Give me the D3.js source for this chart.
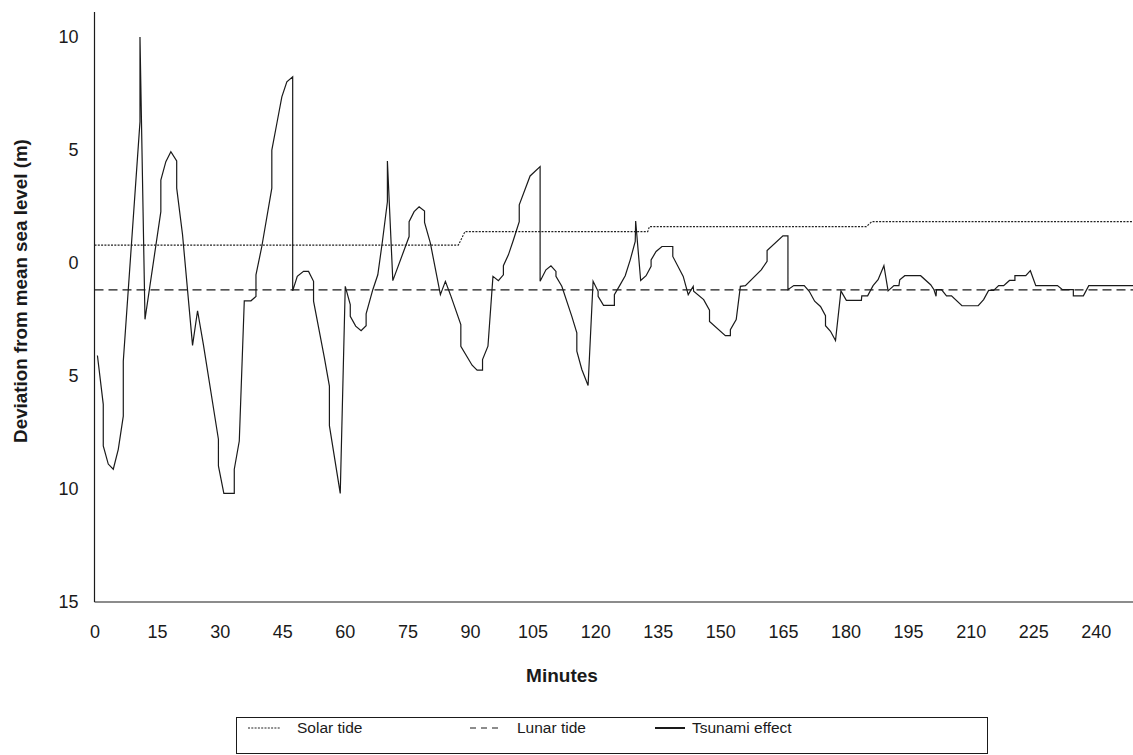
<!DOCTYPE html>
<html>
<head>
<meta charset="utf-8">
<script src="https://cdn.jsdelivr.net/npm/d3@7"></script>
<style>
  html, body { margin: 0; padding: 0; background: #fff; }
  svg { display: block; font-family: "Liberation Sans", Arial, Helvetica, sans-serif; }
</style>
</head>
<body>
<svg id="chart" width="1133" height="755"></svg>
<script>
// ---- Data ----
const xTicks = [0, 15, 30, 45, 60, 75, 90, 105, 120, 135, 150, 165, 180, 195, 210, 225, 240];
const yTicks = [10, 5, 0, -5, -10, -15];

const solarMin = [0, 87.2, 88.8, 132.6, 133.0, 185.0, 186.3, 248.9];
const solarVal = [0.78, 0.78, 1.38, 1.38, 1.6, 1.6, 1.82, 1.82];

const lunarMin = [0, 248.9];
const lunarVal = [-1.2, -1.2];

const tsunamiMin = [0.7,2.1,2.1,3.3,4.5,5.7,6.9,6.9,10.9,10.9,12.1,15.9,15.9,17.1,18.3,19.7,19.7,21.1,23.5,24.7,26.1,29.7,29.7,31,33.5,33.5,34.7,35.9,37.5,38.7,38.7,40.1,42.5,42.5,43.7,44.9,46.1,47.5,47.5,48.6,50.1,51.3,52.5,52.5,55.1,56.3,56.3,58.9,60.1,61.3,61.3,62.6,63.9,65.1,65.1,66.7,67.9,69,70.2,70.2,71.5,75.4,75.4,76.6,77.8,79.1,79.1,80.5,82.9,84.1,85.3,87.8,87.8,90.5,91.7,93,93,94.3,95.5,96.8,98,98,99.2,100.4,101.8,101.8,104.4,106.8,106.8,108.2,109.4,110.6,110.6,112,114.4,115.6,115.6,116.8,118.3,119.5,120.7,120.7,122,124.6,124.6,125.9,127.2,128.4,129.6,129.7,130.9,132.2,133.4,133.4,134.6,136,138.6,138.6,141.1,142.3,143.5,143.6,146,147.4,147.4,151.2,152.4,152.4,153.8,154.8,156,159.8,161.2,161.2,165,166.2,166.2,167.6,170.1,171.3,172.6,174,175.2,175.2,176.4,177.6,178.9,180.2,183.8,183.9,185.3,186.6,187.8,189.2,190.2,191.6,192.8,193,194.2,198,200.4,201.2,201.7,201.8,203,204.2,205.4,207.9,211.8,213.1,214.3,215.5,216.7,217.9,219.3,220.6,220.6,223.2,224.3,225.6,230.8,232,234.6,234.6,237,238.3,248.9];
const tsunamiVal = [-4.1,-6.26,-8.1,-8.9,-9.13,-8.25,-6.78,-4.35,6.23,9.98,-2.5,2.26,3.66,4.47,4.91,4.5,3.3,1.24,-3.65,-2.12,-3.62,-7.8,-8.98,-10.2,-10.2,-9.13,-7.88,-1.68,-1.68,-1.49,-0.53,0.72,3.3,4.98,6.16,7.34,8.0,8.22,-1.24,-0.6,-0.38,-0.38,-0.82,-1.7,-4.2,-5.45,-7.2,-10.2,-1.04,-1.85,-2.37,-2.8,-3.0,-2.78,-2.26,-1.19,-0.53,0.94,2.7,4.5,-0.79,1.16,1.82,2.26,2.48,2.29,1.79,0.87,-1.41,-0.82,-1.41,-2.73,-3.69,-4.53,-4.75,-4.75,-4.28,-3.69,-0.6,-0.79,-0.53,-0.13,0.35,1.01,1.82,2.56,3.84,4.25,-0.82,-0.31,-0.13,-0.38,-0.6,-1.04,-2.37,-3.1,-3.91,-4.72,-5.43,-0.82,-1.26,-1.48,-1.88,-1.88,-1.41,-1.0,-0.57,0.13,0.94,1.85,-0.78,-0.57,-0.16,0.13,0.5,0.72,0.72,0.28,-0.6,-1.41,-1.04,-1.26,-1.63,-2.1,-2.59,-3.22,-3.22,-2.96,-2.51,-1.04,-1.01,-0.31,0.06,0.54,1.19,1.19,-1.19,-1.01,-1.01,-1.26,-1.7,-1.93,-2.34,-2.78,-3.03,-3.44,-1.24,-1.66,-1.66,-1.46,-1.46,-1.01,-0.75,-0.13,-1.24,-1.01,-1.01,-0.75,-0.57,-0.57,-0.97,-1.19,-1.48,-1.19,-1.19,-1.46,-1.46,-1.9,-1.9,-1.63,-1.22,-1.22,-1.01,-1.01,-0.78,-0.78,-0.57,-0.57,-0.35,-1.01,-1.01,-1.19,-1.19,-1.46,-1.46,-1.01,-1.01];

const legendLabels = ["Solar tide", "Lunar tide", "Tsunami effect"];

// ---- Layout ----
const svg = d3.select("#chart");
const plotLeft = 94.5, plotRight = 1133, plotTop = 12, plotBottom = 602;

const x = d3.scaleLinear().domain([0, 248.9]).range([plotLeft, plotRight]);
const y = d3.scaleLinear().domain([-15, 11.09]).range([plotBottom, plotTop]);

const ink = "#1a1a1a";

// Axes
const xAxis = d3.axisBottom(x).tickValues(xTicks).tickSize(0).tickPadding(23).tickFormat(d3.format("d"));
const yAxis = d3.axisLeft(y).tickValues(yTicks).tickSize(0).tickPadding(16).tickFormat(d => String(Math.abs(d)));

const gx = svg.append("g").attr("transform", `translate(0,${plotBottom})`).call(xAxis);
const gy = svg.append("g").attr("transform", `translate(${plotLeft},0)`).call(yAxis);
[gx, gy].forEach(g => {
  g.select(".domain").attr("stroke", ink).attr("stroke-width", 1.2);
  g.selectAll("text").attr("font-size", 18).attr("fill", ink)
   .attr("font-family", "'Liberation Sans', Arial, sans-serif");
});
gx.select(".domain").attr("d", `M${plotLeft},0H${plotRight}`);
gy.select(".domain").attr("d", `M0,${plotBottom}V${plotTop}`);

// Lines
const line = d3.line().x(d => x(d[0])).y(d => y(d[1]));
const zip = (a, b) => a.map((v, i) => [v, b[i]]);

svg.append("path").datum(zip(solarMin, solarVal))
  .attr("d", line).attr("fill", "none").attr("stroke", "#222")
  .attr("stroke-width", 1.1).attr("stroke-dasharray", "2,1.3");

svg.append("path").datum(zip(lunarMin, lunarVal))
  .attr("d", line).attr("fill", "none").attr("stroke", ink)
  .attr("stroke-width", 1.2).attr("stroke-dasharray", "9,5");

svg.append("path").datum(zip(tsunamiMin, tsunamiVal))
  .attr("d", line).attr("fill", "none").attr("stroke", ink)
  .attr("stroke-width", 1.2).attr("stroke-linejoin", "miter");

// Axis titles
svg.append("text").attr("x", 562).attr("y", 682).attr("text-anchor", "middle")
  .attr("font-size", 19).attr("font-weight", "bold").attr("fill", ink).text("Minutes");

svg.append("text").attr("transform", "translate(27,291) rotate(-90)").attr("text-anchor", "middle")
  .attr("font-size", 18.8).attr("font-weight", "bold").attr("fill", ink)
  .text("Deviation from mean sea level (m)");

// Legend
const lg = svg.append("g");
lg.append("rect").attr("x", 236.5).attr("y", 717.5).attr("width", 751).attr("height", 36)
  .attr("fill", "none").attr("stroke", ink).attr("stroke-width", 1);

const ly = 728;
const items = [
  {x0: 248, x1: 280, tx: 297, dash: "2,1.3", w: 1, color: "#222"},
  {x0: 470, x1: 498, tx: 517, dash: "6,5", w: 1, color: ink},
  {x0: 655, x1: 685, tx: 692, dash: null, w: 2, color: ink}
];
items.forEach((it, i) => {
  lg.append("line").attr("x1", it.x0).attr("x2", it.x1).attr("y1", ly).attr("y2", ly)
    .attr("stroke", it.color).attr("stroke-width", it.w)
    .attr("stroke-dasharray", it.dash);
  lg.append("text").attr("x", it.tx).attr("y", ly).attr("dy", "0.35em")
    .attr("font-size", 15.5).attr("fill", ink).text(legendLabels[i]);
});
</script>
</body>
</html>
